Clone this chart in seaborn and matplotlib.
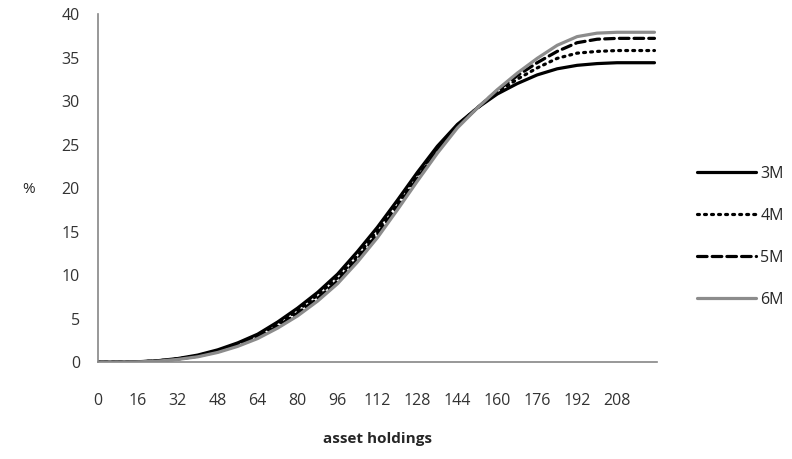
import matplotlib
matplotlib.use("Agg")
import matplotlib.pyplot as plt
import numpy as np
import pandas as pd
import seaborn as sns

# asset holdings grid (every 8 units)
assets = [0, 8, 16, 24, 32, 40, 48, 56, 64, 72, 80, 88, 96, 104, 112,
          120, 128, 136, 144, 152, 160, 168, 176, 184, 192, 200, 208, 216, 223]

# share of households (%) for each horizon
pct_3m = [0, 0, 0.03, 0.15, 0.4, 0.8, 1.4, 2.2, 3.2, 4.6, 6.2, 8.0, 10.1, 12.7, 15.5,
          18.6, 21.8, 24.8, 27.3, 29.2, 30.8, 32.0, 33.0, 33.7, 34.1, 34.3, 34.4, 34.4, 34.4]
pct_4m = [0, 0, 0.02, 0.13, 0.37, 0.73, 1.3, 2.05, 3.0, 4.35, 5.9, 7.7, 9.7, 12.2, 15.1,
          18.2, 21.5, 24.6, 27.2, 29.2, 31.0, 32.5, 33.8, 34.9, 35.5, 35.7, 35.8, 35.8, 35.8]
pct_5m = [0, 0, 0.02, 0.12, 0.34, 0.67, 1.2, 1.9, 2.85, 4.1, 5.6, 7.3, 9.3, 11.8, 14.7,
          17.8, 21.1, 24.3, 27.1, 29.2, 31.2, 32.9, 34.4, 35.7, 36.7, 37.1, 37.2, 37.2, 37.2]
pct_6m = [0, 0, 0.02, 0.1, 0.3, 0.6, 1.1, 1.8, 2.7, 3.9, 5.3, 7.0, 9.0, 11.5, 14.3,
          17.5, 20.8, 24.0, 26.9, 29.2, 31.3, 33.2, 34.9, 36.4, 37.4, 37.8, 37.9, 37.9, 37.9]

horizons = ["3M", "4M", "5M", "6M"]
x_ticks = list(range(0, 209, 16))

df = pd.DataFrame({
    "asset holdings": assets * 4,
    "%": pct_3m + pct_4m + pct_5m + pct_6m,
    "horizon": [h for h in horizons for _ in assets],
})

sns.set_style("white")
plt.rcParams["font.family"] = ["Open Sans", "DejaVu Sans"]

fig = plt.figure(figsize=(7.92, 4.59), dpi=100)
ax = fig.add_axes([0.1237, 0.2113, 0.7058, 0.7582])

palette = {"3M": "black", "4M": "black", "5M": "black", "6M": "#8c8c8c"}
dashes = {"3M": "", "4M": (0.6, 1.6), "5M": (3, 1.6), "6M": ""}
sns.lineplot(data=df, x="asset holdings", y="%", hue="horizon", style="horizon",
             palette=palette, dashes=dashes, linewidth=2.3, ax=ax, legend=True)

for line in ax.lines:
    line.set_dash_capstyle("round")

ax.set_xlim(0, 224)
ax.set_ylim(0, 40)
ax.set_xticks(x_ticks)
ax.set_yticks(range(0, 41, 5))
ax.tick_params(axis="both", labelsize=11.5, colors="#333333", length=5,
               width=1, direction="out")
ax.tick_params(axis="x", pad=17, color="#868686")
ax.tick_params(axis="y", pad=8, color="#868686")
for s in ["top", "right"]:
    ax.spines[s].set_visible(False)
for s in ["left", "bottom"]:
    ax.spines[s].set_color("#868686")
    ax.spines[s].set_linewidth(1.2)

ax.set_xlabel("asset holdings", fontsize=11, fontweight="bold", labelpad=17)
ax.set_ylabel("%", fontsize=11, rotation=0, labelpad=0)
ax.yaxis.set_label_coords(-0.125, 0.475)

handles, labels = ax.get_legend_handles_labels()
ax.legend(handles, labels, loc="center left", bbox_to_anchor=(0.862, 0.484),
          bbox_transform=fig.transFigure, frameon=False, fontsize=11.5,
          handlelength=3.7, handletextpad=0.25, labelspacing=1.62)

fig.savefig("out.png", dpi=100)
